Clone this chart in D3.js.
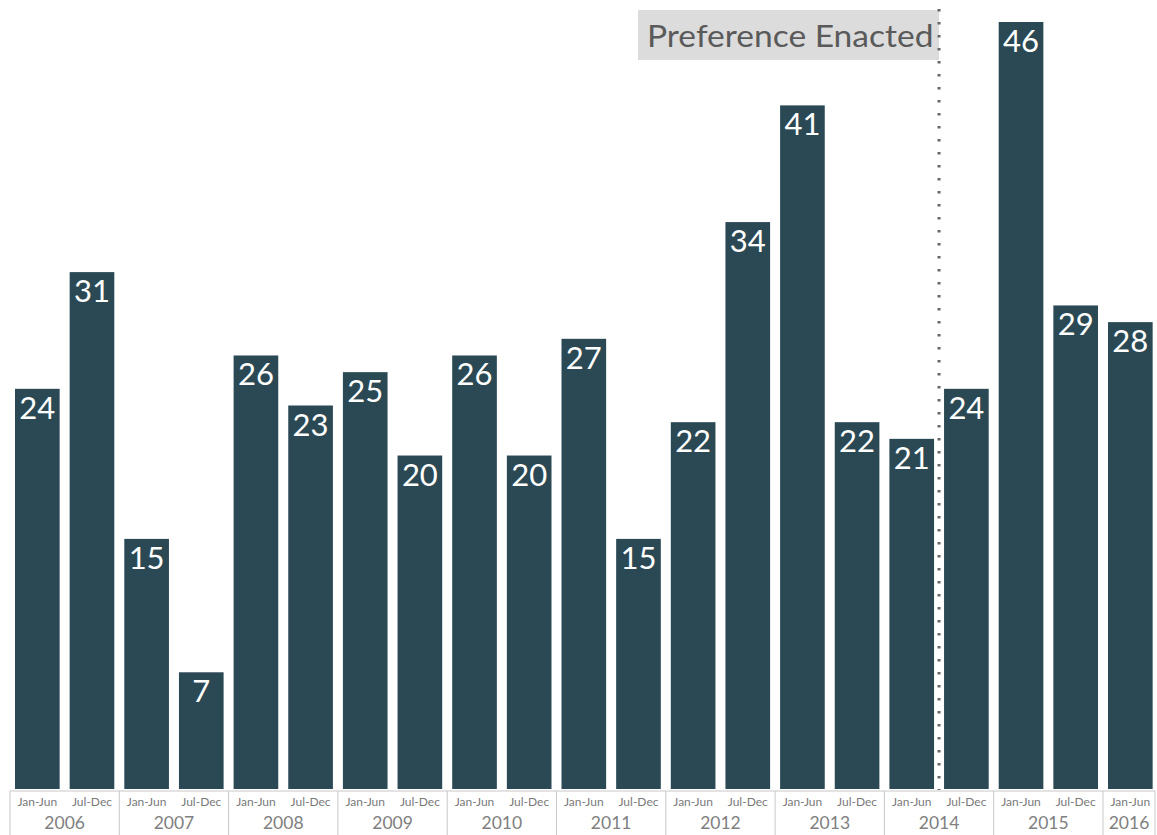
<!DOCTYPE html>
<html>
<head>
<meta charset="utf-8">
<script src="https://cdn.jsdelivr.net/npm/d3@7"></script>
<style>
  body { margin: 0; background: #fff; }
  svg { display: block; font-family: Lato, "Open Sans", sans-serif; }
</style>
</head>
<body>
<div id="chart"></div>
<script>
// half-year counts, 2006 H1 .. 2016 H1
var years = ["2006","2007","2008","2009","2010","2011","2012","2013","2014","2015","2016"];
var halves = ["Jan-Jun","Jul-Dec"];
var counts = [24,31, 15,7, 26,23, 25,20, 26,20, 27,15, 22,34, 41,22, 21,24, 46,29, 28];
var markerLabel = "Preference Enacted";
var markerAfter = 16; // line drawn between bar 16 (2014 Jan-Jun) and bar 17

var W = 1157, H = 835;
var data = counts.map(function(v, i){
    return {i: i, value: v, year: years[Math.floor(i/2)], half: halves[i % 2]};
});

var svg = d3.select("#chart").append("svg")
    .attr("width", W).attr("height", H);

var x = d3.scaleBand()
    .domain(data.map(function(d){ return d.i; }))
    .range([10, 10 + 21 * 54.65])
    .paddingInner(0.183)
    .paddingOuter(0.0915);

var y = d3.scaleLinear().domain([0, 46]).range([789, 22]);

// bars
svg.append("g").selectAll("rect")
    .data(data)
  .enter().append("rect")
    .attr("x", function(d){ return x(d.i); })
    .attr("y", function(d){ return y(d.value); })
    .attr("width", x.bandwidth())
    .attr("height", function(d){ return y(0) - y(d.value); })
    .attr("fill", "#2b4954");

// value labels inside bar tops
svg.append("g").selectAll("text")
    .data(data)
  .enter().append("text")
    .attr("x", function(d){ return x(d.i) + x.bandwidth() / 2; })
    .attr("y", function(d){ return y(d.value) + 30; })
    .attr("text-anchor", "middle")
    .attr("fill", "#fff")
    .attr("font-size", 31)
    .text(function(d){ return d.value; });

// axis table
var axisTop = 791;
var step = x.step();
var start = x.range()[0];
var ax = svg.append("g");

ax.append("line")
    .attr("x1", start).attr("x2", 1155)
    .attr("y1", axisTop).attr("y2", axisTop)
    .attr("stroke", "#c8c8c8");

// year dividers
var dividers = d3.range(years.length + 1).map(function(k){
    return Math.min(start + k * 2 * step, 1155);
});
ax.selectAll("line.div")
    .data(dividers)
  .enter().append("line")
    .attr("class", "div")
    .attr("x1", function(d){ return d; }).attr("x2", function(d){ return d; })
    .attr("y1", axisTop).attr("y2", H)
    .attr("stroke", "#c8c8c8");

ax.selectAll("text.half")
    .data(data)
  .enter().append("text")
    .attr("class", "half")
    .attr("x", function(d){ return x(d.i) + x.bandwidth() / 2; })
    .attr("y", 805.5)
    .attr("text-anchor", "middle")
    .attr("font-size", 12)
    .attr("fill", "#7a7a7a")
    .text(function(d){ return d.half; });

ax.selectAll("text.year")
    .data(years)
  .enter().append("text")
    .attr("class", "year")
    .attr("x", function(d, k){
        var a = dividers[k], b = dividers[k + 1];
        return (a + b) / 2;
    })
    .attr("y", 829)
    .attr("text-anchor", "middle")
    .attr("font-size", 17.5)
    .attr("fill", "#808080")
    .text(function(d){ return d; });

// annotation
var lineX = (x(markerAfter) + x.bandwidth() + x(markerAfter + 1)) / 2;
svg.append("rect")
    .attr("x", 638).attr("y", 10)
    .attr("width", lineX - 638).attr("height", 50)
    .attr("fill", "#dcdcdc");
svg.append("text")
    .attr("transform", "translate(647,47) scale(1.1,1)")
    .attr("font-size", 30.5)
    .attr("fill", "#5a5a5a")
    .text(markerLabel);
svg.append("line")
    .attr("x1", lineX).attr("x2", lineX)
    .attr("y1", 9).attr("y2", 790)
    .attr("stroke", "#666")
    .attr("stroke-width", 3)
    .attr("stroke-dasharray", "2.5,10.5");
</script>
</body>
</html>
